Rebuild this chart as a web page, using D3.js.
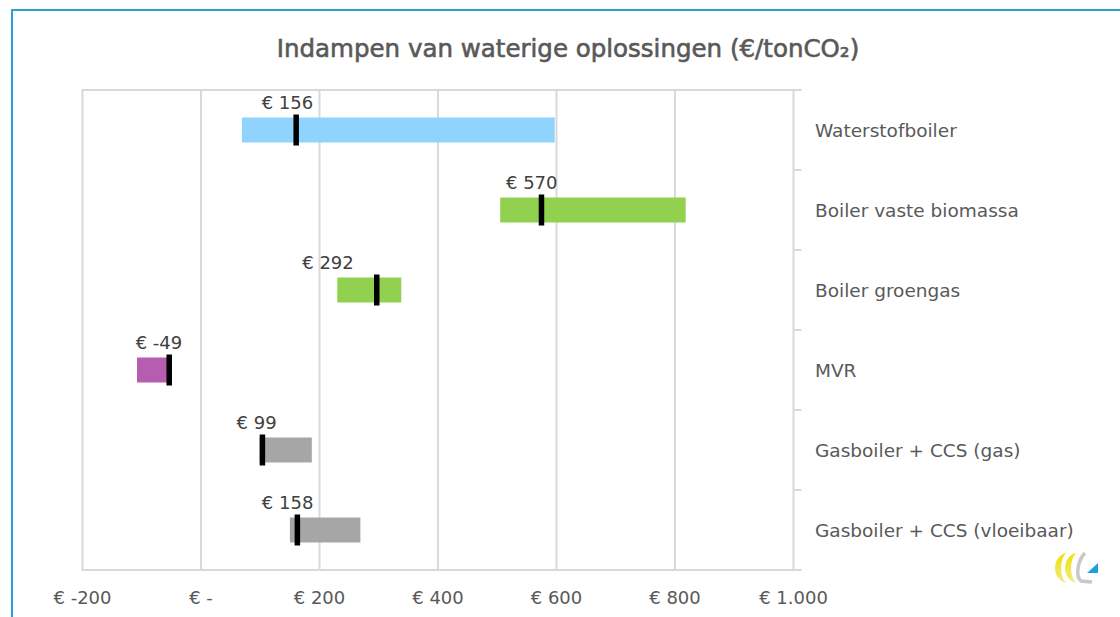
<!DOCTYPE html>
<html lang="nl">
<head>
<meta charset="utf-8">
<title>Indampen van waterige oplossingen</title>
<script src="https://cdn.jsdelivr.net/npm/d3@7"></script>
<style>
  html, body { margin: 0; padding: 0; background: #fff; }
  svg { display: block; }
  text { font-family: "DejaVu Sans", sans-serif; }
</style>
</head>
<body>
<div id="chart"></div>
<script>
// data (€/tonCO2)
const categories = ["Waterstofboiler", "Boiler vaste biomassa", "Boiler groengas", "MVR",
                    "Gasboiler + CCS (gas)", "Gasboiler + CCS (vloeibaar)"];
const lowValues  = [69, 505, 230, -108, 99, 150];
const highValues = [597, 818, 338, -49, 187, 269];
const midValues  = [156, 570, 292, -49, 99, 158];
const tickValues = [-200, 0, 200, 400, 600, 800, 1000];
const tickLabels = ["€ -200", "€ -", "€ 200", "€ 400", "€ 600", "€ 800", "€ 1.000"];

const barColors  = ["#8fd3fe", "#92d050", "#92d050", "#b65daf", "#a6a6a6", "#a6a6a6"];
// the data labels were nudged by hand in the original
const labelShift = [-6, -7, -46, -13, -3, -7];

const W = 1120, H = 617;
const plot = { left: 82.5, right: 793.5, top: 90, bottom: 570 };
const grid = "#d9d9d9";

const svg = d3.select("#chart").append("svg")
    .attr("width", W).attr("height", H);

svg.append("rect").attr("width", W).attr("height", H).attr("fill", "#fff");

// frame of the chart area (cut off at right and bottom)
svg.append("path")
    .attr("d", "M12,617 L12,10 L1120,10")
    .attr("fill", "none")
    .attr("stroke", "#2d9fd8")
    .attr("stroke-width", 2);

svg.append("text")
    .attr("x", 568).attr("y", 57)
    .attr("text-anchor", "middle")
    .attr("font-size", 24.5)
    .attr("fill", "#595959")
    .attr("stroke", "#595959")
    .attr("stroke-width", 0.6)
    .text("Indampen van waterige oplossingen (€/tonCO₂)");

const x = d3.scaleLinear().domain([-200, 1000]).range([plot.left, plot.right]);
const y = d3.scaleBand().domain(categories)
    .range([plot.top, plot.bottom])
    .paddingInner(0.6875).paddingOuter(0.34375);

// vertical gridlines
svg.append("g").selectAll("line")
    .data(tickValues)
    .join("line")
    .attr("x1", d => x(d)).attr("x2", d => x(d))
    .attr("y1", plot.top).attr("y2", plot.bottom)
    .attr("stroke", grid).attr("stroke-width", 2);

// top and bottom border lines
svg.append("g").selectAll("line")
    .data([plot.top, plot.bottom])
    .join("line")
    .attr("x1", plot.left - 1).attr("x2", plot.right + 8)
    .attr("y1", d => d).attr("y2", d => d)
    .attr("stroke", grid).attr("stroke-width", 2);

// category axis on the right with ticks between categories
const step = y.step();
const bounds = d3.range(categories.length + 1).map(i => plot.top + i * step);
svg.append("g").selectAll("line")
    .data(bounds)
    .join("line")
    .attr("x1", plot.right).attr("x2", plot.right + 8)
    .attr("y1", d => d).attr("y2", d => d)
    .attr("stroke", grid).attr("stroke-width", 2);

svg.append("g").selectAll("text")
    .data(categories)
    .join("text")
    .attr("x", 815)
    .attr("y", d => y(d) + y.bandwidth() / 2 + 7)
    .attr("font-size", 18.5)
    .attr("fill", "#595959")
    .text(d => d);

// x tick labels
svg.append("g").selectAll("text")
    .data(tickValues)
    .join("text")
    .attr("x", d => x(d))
    .attr("y", 604)
    .attr("text-anchor", "middle")
    .attr("font-family", "'Open Sans', sans-serif")
    .attr("font-size", 18)
    .attr("fill", "#595959")
    .text((d, i) => tickLabels[i]);

// range bars
svg.append("g").selectAll("rect")
    .data(categories)
    .join("rect")
    .attr("x", (d, i) => x(lowValues[i]))
    .attr("y", d => y(d))
    .attr("width", (d, i) => x(highValues[i]) - x(lowValues[i]))
    .attr("height", y.bandwidth())
    .attr("fill", (d, i) => barColors[i]);

// black markers at the central estimate
const markW = 5.5, markH = 31;
svg.append("g").selectAll("rect")
    .data(categories)
    .join("rect")
    .attr("x", (d, i) => midValues[i] < 0 ? x(midValues[i]) - markW : x(midValues[i]))
    .attr("y", d => y(d) + y.bandwidth() / 2 - markH / 2)
    .attr("width", markW)
    .attr("height", markH)
    .attr("fill", "#000");

svg.append("g").selectAll("text")
    .data(categories)
    .join("text")
    .attr("x", (d, i) => x(midValues[i]) + labelShift[i])
    .attr("y", d => y(d) + y.bandwidth() / 2 - 21)
    .attr("text-anchor", "middle")
    .attr("font-size", 18)
    .attr("fill", "#404040")
    .text((d, i) => "€ " + midValues[i]);

// small logo, bottom right
const logo = svg.append("g").attr("transform", "translate(1053,552)");
const yel = logo.append("defs").append("linearGradient")
    .attr("id", "yel").attr("x1", 0).attr("y1", 0).attr("x2", 0).attr("y2", 1);
yel.append("stop").attr("offset", 0).attr("stop-color", "#f2e000");
yel.append("stop").attr("offset", 1).attr("stop-color", "#f1ea8a");
logo.append("path")
    .attr("d", "M15,1 A13,15 0 0 0 15,31 A7,15 0 0 1 15,1 Z")
    .attr("fill", "url(#yel)");
logo.append("path")
    .attr("d", "M25,1 A13,15 0 0 0 25,31 A7,15 0 0 1 25,1 Z")
    .attr("fill", "url(#yel)");
logo.append("path")
    .attr("d", "M32,1 C25,8 22,24 28,29 L39,30")
    .attr("fill", "none").attr("stroke", "#c8c8c8").attr("stroke-width", 3.5);
logo.append("path")
    .attr("d", "M34,21 L45,11 L45,21 Z")
    .attr("fill", "#1ba1e2");
</script>
</body>
</html>
